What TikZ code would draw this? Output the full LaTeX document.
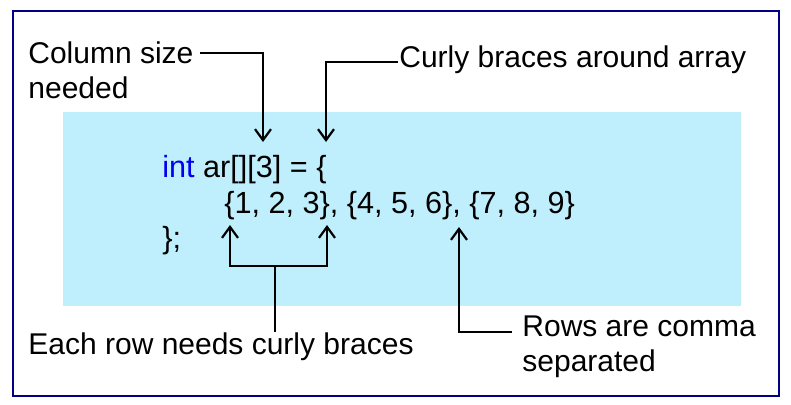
\documentclass[tikz,border=0pt]{standalone}
\usepackage{fontspec}
\setmainfont{Liberation Sans}
\definecolor{codebg}{RGB}{191,238,252}
\definecolor{framenavy}{RGB}{0,0,128}
\definecolor{keyblue}{RGB}{0,0,240}
\usetikzlibrary{arrows.meta,calc}
\tikzstyle{note}=[inner sep=0pt,anchor=base west,font=\fontsize{15}{18}\selectfont]
\tikzstyle{codeline}=[note,font=\fontsize{15.3}{18}\selectfont]
\tikzstyle{pointer}=[line width=1.1pt,-{Straight Barb[length=5.5pt,width=8pt]}]

\begin{document}
\begin{tikzpicture}[x=0.5pt,y=-0.5pt]
\useasboundingbox (0,0) rectangle (791,404);
\draw[framenavy,line width=1pt] (13,11) rectangle (779,396);
\fill[codebg] (63,112) rectangle (741,306);
% code lines
\node[codeline] (line1) at (162,177) {\textcolor{keyblue}{int} ar[][3] = \{};
\node[codeline] (line2) at (224,213) {\{1, 2, 3\}, \{4, 5, 6\}, \{7, 8, 9\}};
\node[codeline] (line3) at (162,248) {\};};
% notes
\node[note] (colsize) at (28,63) {Column size};
\node[note] (colsize2) at (28,98) {needed};
\node[note] (curly) at (399,67) {Curly braces around array};
\node[note] (eachrow) at (28,354) {Each row needs curly braces};
\node[note] (rowscomma) at (522,336) {Rows are comma};
\node[note] (rowscomma2) at (522,371) {separated};
% arrow ends
\coordinate (colarr) at (263,142);
\coordinate (bracearr) at (326,142);
\coordinate (rowfork) at (275,266);
\coordinate (open1) at (230,225);
\coordinate (close1) at (327,225);
\coordinate (commaarr) at (459,227);
% pointers
\draw[pointer] ([shift={(6,-10)}]colsize.base east) -| (colarr);
\draw[pointer] ([shift={(-1,-5)}]curly.base west) -| (bracearr);
\draw[line width=1.1pt] (eachrow.north -| rowfork) -- (rowfork);
\draw[pointer] (rowfork) -| (open1);
\draw[pointer] (rowfork) -| (close1);
\draw[pointer] ([shift={(-10,-4)}]rowscomma.base west) -| (commaarr);
\end{tikzpicture}
\end{document}
